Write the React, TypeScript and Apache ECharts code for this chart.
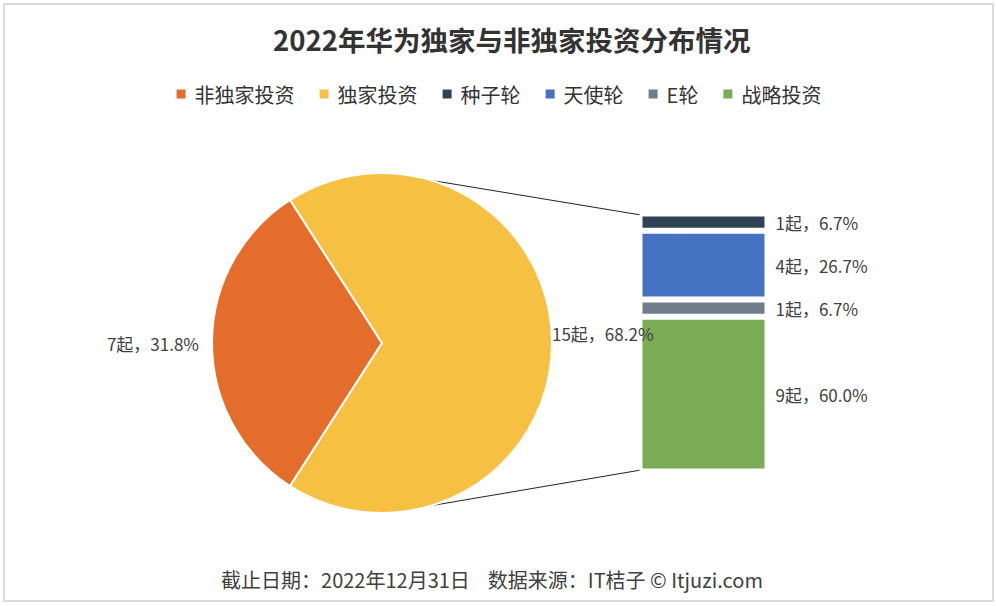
import React, { useEffect, useRef } from "react";
import * as echarts from "echarts";

const titleText = "2022年华为独家与非独家投资分布情况";
const footerText = "截止日期：2022年12月31日    数据来源：IT桔子 © Itjuzi.com";
const pieNames = ["非独家投资", "独家投资"];
const pieValues = [7, 15];
const barNames = ["种子轮", "天使轮", "E轮", "战略投资"];
const barValues = [1, 4, 1, 9];
const legendOrder = ["非独家投资", "独家投资", "种子轮", "天使轮", "E轮", "战略投资"];
const pieColors = ["#E46D2B", "#F6C143"];
const barColors = ["#2E4354", "#4673C1", "#717D8B", "#7AAB55"];

const FONT = "'Noto Sans CJK SC', 'Noto Sans', sans-serif";

export default function App() {
  const ref = useRef<HTMLDivElement>(null);
  useEffect(() => {
    if (!ref.current) return;
    const chart = echarts.init(ref.current, null, { renderer: "svg" });
    const cx = 382, cy = 343, r = 170;
    const pieTotal = pieValues.reduce((a, b) => a + b, 0);
    const barTotal = barValues.reduce((a, b) => a + b, 0);
    const half = (pieValues[0] / pieTotal) * 180;
    const bw = 3;
    const visLeft = 641, visTop = 215, visW = 125, visH = 255;
    const gLeft = visLeft - bw / 2, gTop = visTop - bw / 2, gW = visW + bw, gH = visH + bw;
    const ang = (73 * Math.PI) / 180;
    const px = cx + r * Math.cos(ang);
    const pyTop = cy - r * Math.sin(ang);
    const pyBot = cy + r * Math.sin(ang);

    const stackOrder = [...barNames.keys()].reverse();
    const barSeries = stackOrder.map((i) => ({
      type: "bar",
      name: barNames[i],
      stack: "total",
      barWidth: "100%",
      data: [barValues[i]],
      itemStyle: { color: barColors[i], borderColor: "#fff", borderWidth: bw },
      label: {
        show: true,
        position: "right",
        distance: 8,
        color: "#404040",
        fontSize: 17,
        fontFamily: FONT,
        formatter: (p: any) => `${p.value}起，${((p.value / barTotal) * 100).toFixed(1)}%`,
      },
    }));

    chart.setOption({
      animation: false,
      backgroundColor: "#fff",
      textStyle: { fontFamily: FONT },
      title: {
        text: titleText,
        left: 268,
        top: 20,
        textStyle: { fontSize: 27.5, fontWeight: "bold", color: "#333", fontFamily: FONT },
      },
      legend: {
        data: legendOrder,
        top: 79,
        left: "center",
        icon: "rect",
        itemWidth: 11,
        itemHeight: 11,
        itemGap: 23,
        textStyle: { fontSize: 20, color: "#333", fontFamily: FONT, padding: [0, 0, 0, 3] },
      },
      grid: { left: gLeft, top: gTop, width: gW, height: gH },
      xAxis: { type: "category", data: ["细分"], show: false },
      yAxis: { type: "value", min: 0, max: barTotal, show: false },
      series: [
        {
          type: "pie",
          center: [cx, cy],
          radius: r,
          startAngle: 180 + half,
          clockwise: true,
          avoidLabelOverlap: false,
          percentPrecision: 1,
          itemStyle: { borderColor: "#fff", borderWidth: 2 },
          label: {
            show: true,
            position: "outside",
            formatter: "{c}起，{d}%",
            color: "#404040",
            fontSize: 17,
            lineHeight: 20,
            fontFamily: FONT,
          },
          labelLine: { show: false, length: 0, length2: 8 },
          data: pieNames.map((n, i) => ({
            name: n,
            value: pieValues[i],
            itemStyle: { color: pieColors[i] },
            ...(i === 1
              ? {
                  labelLine: { show: false, length: 0, length2: 0 },
                  label: { distanceToLabelLine: 0, formatter: "{c}起，{d}%\n " },
                }
              : {}),
          })),
        },
        ...barSeries,
      ],
      graphic: [
        {
          type: "rect",
          shape: { x: 4, y: 4, width: 989, height: 597 },
          style: { fill: "none", stroke: "#dcdcdc", lineWidth: 2 },
          silent: true,
        },
        {
          type: "line",
          shape: { x1: px, y1: pyTop, x2: visLeft, y2: visTop },
          style: { stroke: "#222", lineWidth: 1 },
        },
        {
          type: "line",
          shape: { x1: px, y1: pyBot, x2: visLeft, y2: visTop + visH },
          style: { stroke: "#222", lineWidth: 1 },
        },
        {
          type: "text",
          x: 492,
          y: 579,
          style: {
            text: footerText,
            fontSize: 20,
            fill: "#404040",
            fontFamily: FONT,
            textAlign: "center",
            textVerticalAlign: "middle",
          },
        },
      ],
    });
    return () => chart.dispose();
  }, []);
  return (
    <div
      ref={ref}
      style={{ position: "absolute", left: 0, top: 0, width: 996, height: 606 }}
    />
  );
}
